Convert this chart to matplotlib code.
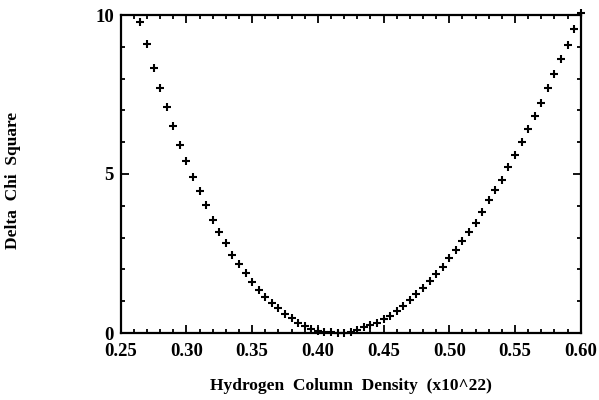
import matplotlib
matplotlib.use("Agg")
import matplotlib.pyplot as plt
from matplotlib.ticker import MultipleLocator, FormatStrFormatter

column_density = [
    0.265, 0.270, 0.275, 0.280, 0.285, 0.290, 0.295, 0.300, 0.305, 0.310,
    0.315, 0.320, 0.325, 0.330, 0.335, 0.340, 0.345, 0.350, 0.355, 0.360,
    0.365, 0.370, 0.375, 0.380, 0.385, 0.390, 0.395, 0.400, 0.405, 0.410,
    0.415, 0.420, 0.425, 0.430, 0.435, 0.440, 0.445, 0.450, 0.455, 0.460,
    0.465, 0.470, 0.475, 0.480, 0.485, 0.490, 0.495, 0.500, 0.505, 0.510,
    0.515, 0.520, 0.525, 0.530, 0.535, 0.540, 0.545, 0.550, 0.555, 0.560,
    0.565, 0.570, 0.575, 0.580, 0.585, 0.590, 0.595, 0.600,
]
delta_chi2 = [
    9.78, 9.08, 8.34, 7.69, 7.11, 6.50, 5.92, 5.40, 4.91, 4.47,
    4.02, 3.55, 3.19, 2.82, 2.46, 2.18, 1.88, 1.61, 1.36, 1.13,
    0.94, 0.78, 0.60, 0.48, 0.32, 0.23, 0.14, 0.07, 0.04, 0.02,
    0.00, 0.00, 0.04, 0.09, 0.18, 0.24, 0.32, 0.43, 0.54, 0.69,
    0.85, 1.04, 1.23, 1.42, 1.64, 1.86, 2.08, 2.36, 2.61, 2.90,
    3.18, 3.47, 3.80, 4.17, 4.50, 4.81, 5.23, 5.60, 6.02, 6.41,
    6.82, 7.22, 7.69, 8.14, 8.61, 9.06, 9.55, 10.05,
]
x_ticks = [0.25, 0.30, 0.35, 0.40, 0.45, 0.50, 0.55, 0.60]
y_ticks = [0, 5, 10]

serif = ["Liberation Serif", "DejaVu Serif"]

fig = plt.figure(figsize=(5.99, 4.0), dpi=100)
ax = fig.add_axes([0.2015, 0.1675, 0.768, 0.795])

ax.plot(column_density, delta_chi2, linestyle="none", marker="+",
        markersize=5.2, markeredgewidth=1.5, color="black", clip_on=False)

ax.set_xlim(0.25, 0.60)
ax.set_ylim(0, 10)
ax.set_xticks(x_ticks)
ax.set_yticks(y_ticks)
ax.xaxis.set_major_formatter(FormatStrFormatter("%.2f"))
ax.yaxis.set_major_formatter(FormatStrFormatter("%d"))
ax.xaxis.set_minor_locator(MultipleLocator(0.01))
ax.yaxis.set_minor_locator(MultipleLocator(1))

for s in ax.spines.values():
    s.set_linewidth(1.6)

ax.tick_params(which="both", direction="in", top=True, right=True,
               width=1.3, color="black")
ax.tick_params(which="major", length=6)
ax.tick_params(axis="x", which="major", pad=7)
ax.tick_params(axis="y", which="major", pad=5)
ax.tick_params(which="minor", length=3)

for lab in ax.get_xticklabels() + ax.get_yticklabels():
    lab.set_fontfamily(serif)
    lab.set_fontweight("bold")
    lab.set_fontsize(13.5)

ax.set_xlabel("Hydrogen  Column  Density  (x10^22)", fontfamily=serif,
              fontweight="bold", fontsize=12.5, labelpad=13)
fig.text(0.022, 0.55, "Delta  Chi  Square", rotation=90, fontfamily=serif,
         fontweight="bold", fontsize=12.5, ha="center", va="center")

fig.savefig("out.png", dpi=100, facecolor="white")
